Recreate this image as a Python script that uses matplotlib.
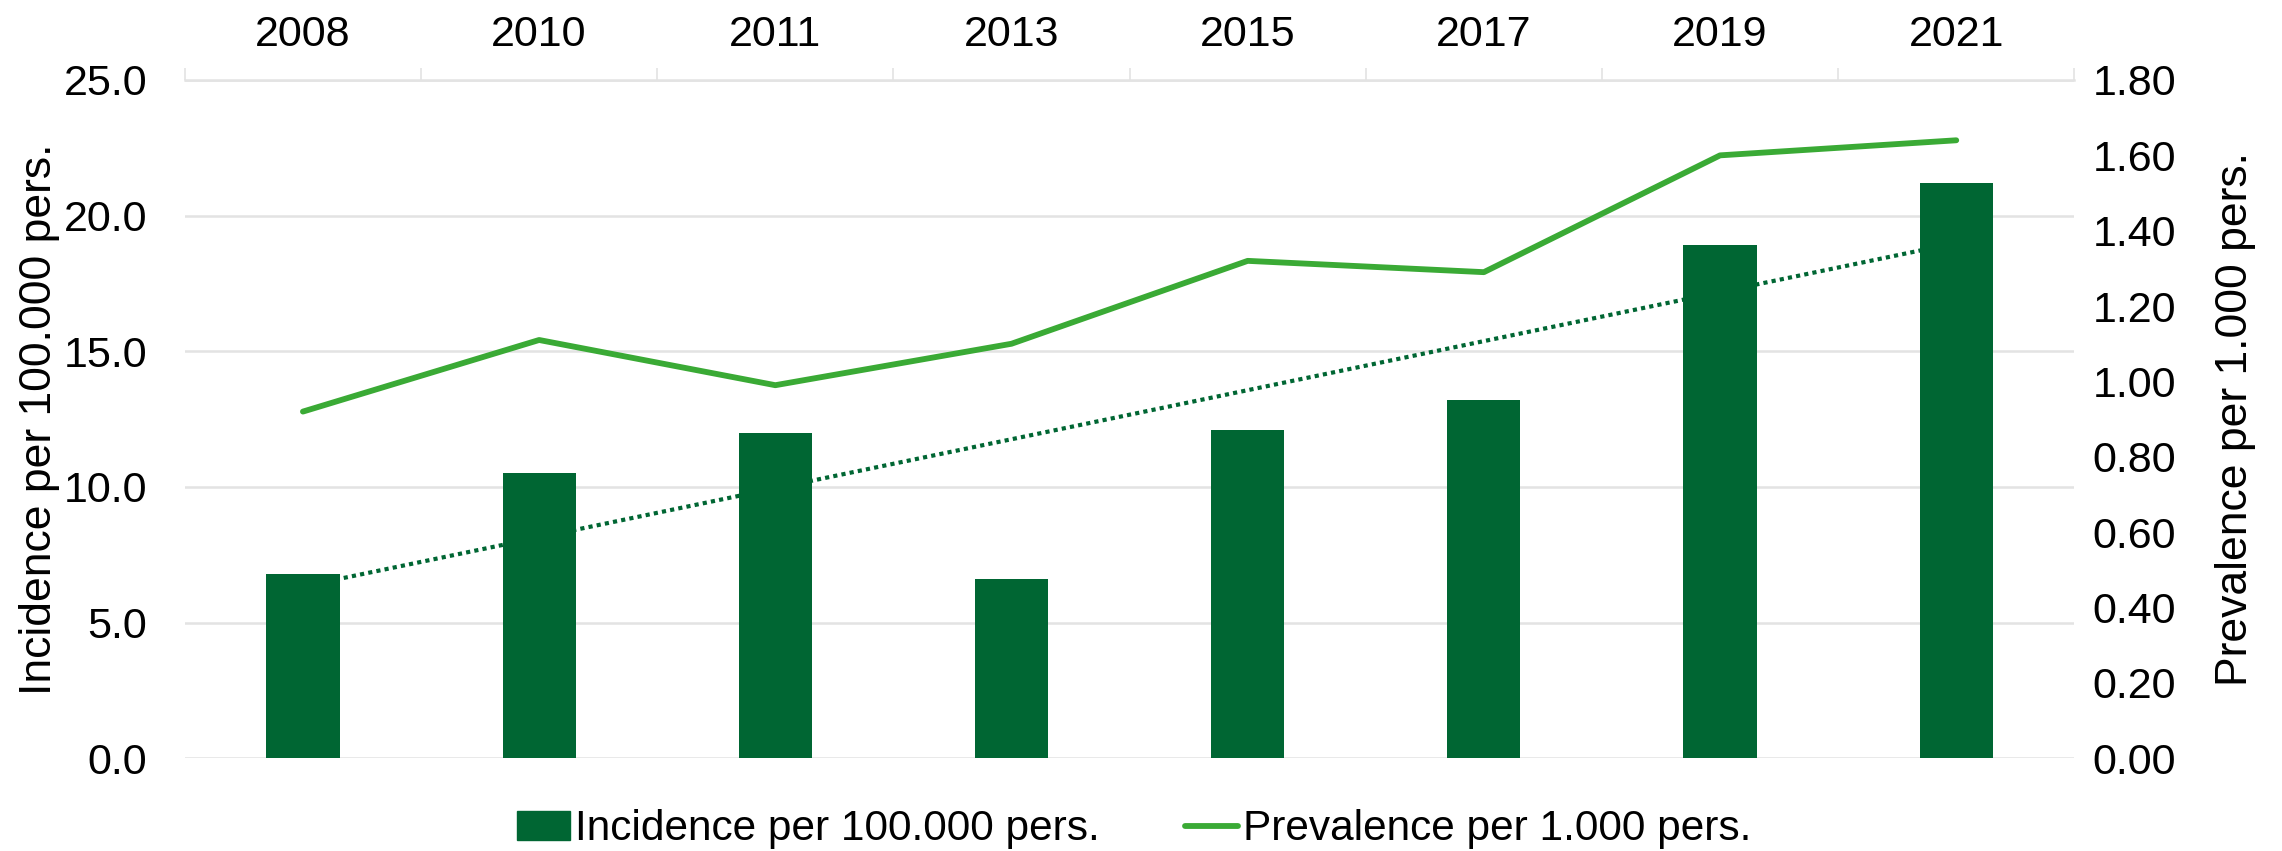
import matplotlib
matplotlib.use('Agg')
import matplotlib.pyplot as plt
from matplotlib.lines import Line2D
from matplotlib.patches import Patch
import numpy as np

years = ['2008', '2010', '2011', '2013', '2015', '2017', '2019', '2021']
incidence = [6.8, 10.5, 12.0, 6.6, 12.1, 13.2, 18.9, 21.2]      # per 100.000 pers.
prevalence = [0.92, 1.11, 0.99, 1.10, 1.32, 1.29, 1.60, 1.64]   # per 1.000 pers.
left_ticks = [0.0, 5.0, 10.0, 15.0, 20.0, 25.0]
right_ticks = [0.0, 0.2, 0.4, 0.6, 0.8, 1.0, 1.2, 1.4, 1.6, 1.8]

bar_col = '#006633'
line_col = '#3aaa35'
grid_col = '#e3e3e3'
font = ['Liberation Sans', 'DejaVu Sans']
fs = 31

fig = plt.figure(figsize=(22.82, 8.51), dpi=100)
ax = fig.add_axes([0.081, 0.109, 0.828, 0.797])
x = np.arange(len(years))

# linear trend of incidence, drawn under the bars
k, b = np.polyfit(x, incidence, 1)
ax.plot(x, k * x + b, color=bar_col, lw=3, ls=(0, (1, 1)), zorder=1)
ax.bar(x, incidence, width=0.31, color=bar_col, zorder=2)

ax.set_xlim(-0.5, len(years) - 0.5)
ax.set_ylim(0, 25)
ax.set_yticks(left_ticks)
ax.set_yticklabels([f'{v:.1f}' for v in left_ticks], family=font, fontsize=fs)
ax.yaxis.grid(True, color=grid_col, lw=1.8)
ax.set_axisbelow(True)
ax.tick_params(axis='y', length=0, pad=27)

ax.xaxis.tick_top()
ax.set_xticks(x)
ax.set_xticklabels(years, family=font, fontsize=fs)
ax.set_xticks(np.arange(-0.5, len(years)), minor=True)
ax.tick_params(axis='x', which='major', length=0, pad=18)
ax.tick_params(axis='x', which='minor', length=8.6, width=1.2, color=grid_col,
               direction='out')
for s in ['left', 'right', 'bottom']:
    ax.spines[s].set_visible(False)
ax.spines['top'].set_color(grid_col)
ax.spines['top'].set_linewidth(1.8)
ax.set_ylabel('Incidence per 100.000 pers.', family=font, fontsize=32, labelpad=3)

ax2 = ax.twinx()
ax2.plot(x, prevalence, color=line_col, lw=4.2, solid_capstyle='round', zorder=3)
ax2.set_ylim(0, 1.8)
ax2.set_yticks(right_ticks)
ax2.set_yticklabels([f'{v:.2f}' for v in right_ticks], family=font, fontsize=fs)
ax2.tick_params(axis='y', length=0, pad=13)
for s in ax2.spines.values():
    s.set_visible(False)
ax2.set_ylabel('Prevalence per 1.000 pers.', family=font, fontsize=32, labelpad=28)

handles = [Patch(color=bar_col, label='Incidence per 100.000 pers.'),
           Line2D([], [], color=line_col, lw=4.2, solid_capstyle='round',
                  label='Prevalence per 1.000 pers.')]
fig.legend(handles=handles, loc='lower center', bbox_to_anchor=(0.497, -0.043), ncol=2,
           frameon=False, prop={'family': font, 'size': 30.5},
           handlelength=1.25, handleheight=0.67, handletextpad=0.13, columnspacing=2.0)

fig.savefig('out.png', dpi=100)
